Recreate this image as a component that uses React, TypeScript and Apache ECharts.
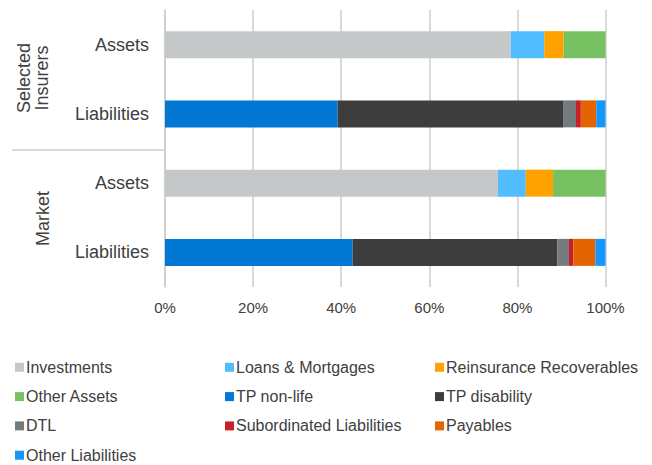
import React, { useEffect, useRef } from "react";
import * as echarts from "echarts";

const categoryKeys = ["si-assets", "si-liabilities", "m-assets", "m-liabilities"];
const categoryLabels = ["Assets", "Liabilities", "Assets", "Liabilities"];
const groupLabels = ["Selected", "Insurers", "Market"];
const xTicks = [0, 20, 40, 60, 80, 100];

const seriesNames = [
  "Investments",
  "Loans & Mortgages",
  "Reinsurance Recoverables",
  "Other Assets",
  "TP non-life",
  "TP disability",
  "DTL",
  "Subordinated Liabilities",
  "Payables",
  "Other Liabilities",
];
const seriesColors = [
  "#c5c8c9",
  "#50bdff",
  "#ffa200",
  "#77c163",
  "#0078d4",
  "#3d3d3d",
  "#737b7f",
  "#c8202a",
  "#e36400",
  "#1496ff",
];
// values per category: [SI Assets, SI Liabilities, Market Assets, Market Liabilities]
const investments = [78.5, null, 75.6, null];
const loansMortgages = [7.6, null, 6.3, null];
const reinsuranceRecoverables = [4.4, null, 6.2, null];
const otherAssets = [9.5, null, 11.9, null];
const tpNonLife = [null, 39.2, null, 42.6];
const tpDisability = [null, 51.3, null, 46.5];
const dtl = [null, 2.8, null, 2.6];
const subordinatedLiabilities = [null, 1.1, null, 1.0];
const payables = [null, 3.5, null, 5.0];
const otherLiabilities = [null, 2.1, null, 2.3];

const seriesValues = [
  investments,
  loansMortgages,
  reinsuranceRecoverables,
  otherAssets,
  tpNonLife,
  tpDisability,
  dtl,
  subordinatedLiabilities,
  payables,
  otherLiabilities,
];

const legendCol1 = ["Investments", "Other Assets", "DTL", "Other Liabilities"];
const legendCol2 = ["Loans & Mortgages", "TP non-life", "Subordinated Liabilities"];
const legendCol3 = ["Reinsurance Recoverables", "TP disability", "Payables"];

const FONT = "'Liberation Sans', Arial, sans-serif";
const TEXT = "#404040";
const GRIDC = "#cccccc";

export default function App() {
  const ref = useRef<HTMLDivElement>(null);
  useEffect(() => {
    if (!ref.current) return;
    const chart = echarts.init(ref.current, null, { renderer: "svg" });
    const legendBase = {
      orient: "vertical" as const,
      top: 359.3,
      padding: 0,
      itemWidth: 9,
      itemHeight: 9,
      itemGap: 13.3,
      icon: "rect",
      textStyle: { fontSize: 16, color: TEXT, fontFamily: FONT, lineHeight: 16, padding: [0, 0, 0, -3] },
      selectedMode: false,
    };
    chart.setOption({
      animation: false,
      textStyle: { fontFamily: FONT },
      grid: { left: 165, right: 46.5, top: 10, bottom: 178, containLabel: false },
      legend: [
        { ...legendBase, left: 15, data: legendCol1 },
        { ...legendBase, left: 225, data: legendCol2 },
        { ...legendBase, left: 435, data: legendCol3 },
      ],
      xAxis: {
        type: "value",
        min: xTicks[0],
        max: xTicks[xTicks.length - 1],
        interval: 20,
        axisLine: { show: false },
        axisTick: { show: false },
        splitLine: { show: true, lineStyle: { color: GRIDC, width: 1.5 } },
        axisLabel: {
          formatter: "{value}%",
          fontSize: 15,
          color: TEXT,
          fontFamily: FONT,
          margin: 13,
        },
      },
      yAxis: {
        type: "category",
        inverse: true,
        data: categoryKeys,
        axisLine: { show: true, lineStyle: { color: GRIDC, width: 1.5 } },
        axisTick: { show: false },
        axisLabel: {
          formatter: (_v: string, i: number) => categoryLabels[i],
          fontSize: 18,
          color: TEXT,
          fontFamily: FONT,
          margin: 16,
        },
      },
      series: seriesNames.map((name, i) => ({
        name,
        type: "bar",
        stack: "total",
        barWidth: 27,
        itemStyle: { color: seriesColors[i] },
        data: seriesValues[i],
      })),
      graphic: [
        {
          type: "line",
          shape: { x1: 12, y1: 150, x2: 165, y2: 150 },
          style: { stroke: GRIDC, lineWidth: 1.5 },
        },
        {
          type: "text",
          x: 23.5,
          y: 78,
          rotation: Math.PI / 2,
          style: {
            text: groupLabels[0],
            fontSize: 18,
            fill: TEXT,
            fontFamily: FONT,
            align: "center",
            verticalAlign: "middle",
          },
        },
        {
          type: "text",
          x: 42,
          y: 78,
          rotation: Math.PI / 2,
          style: {
            text: groupLabels[1],
            fontSize: 18,
            fill: TEXT,
            fontFamily: FONT,
            align: "center",
            verticalAlign: "middle",
          },
        },
        {
          type: "text",
          x: 43,
          y: 218.5,
          rotation: Math.PI / 2,
          style: {
            text: groupLabels[2],
            fontSize: 18,
            fill: TEXT,
            fontFamily: FONT,
            align: "center",
            verticalAlign: "middle",
          },
        },
      ],
    });
    return () => chart.dispose();
  }, []);
  return <div ref={ref} style={{ width: 652, height: 465, position: "absolute", left: 0, top: 0 }} />;
}
